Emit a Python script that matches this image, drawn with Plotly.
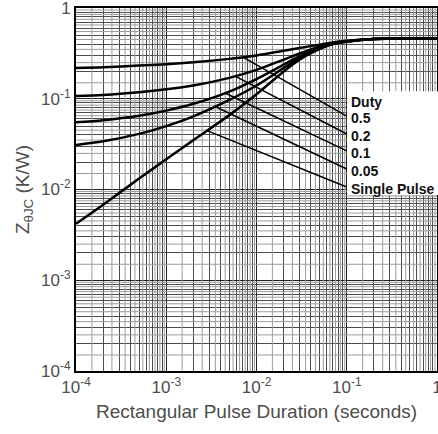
import numpy as np
import plotly.graph_objects as go

# ---- data ----
pulse_s = [1e-4, 2e-4, 5e-4, 1e-3, 2e-3, 5e-3, 1e-2, 2e-2, 3e-2, 5e-2, 7e-2, 1e-1, 2e-1, 5e-1, 1.0]
z_d05 = [0.218, 0.222, 0.232, 0.240, 0.252, 0.275, 0.300, 0.338, 0.362, 0.395, 0.418, 0.435, 0.455, 0.46, 0.46]
z_d02 = [0.107, 0.110, 0.118, 0.127, 0.140, 0.170, 0.208, 0.270, 0.315, 0.375, 0.408, 0.430, 0.455, 0.46, 0.46]
z_d01 = [0.055, 0.058, 0.065, 0.074, 0.088, 0.120, 0.165, 0.238, 0.295, 0.365, 0.404, 0.428, 0.455, 0.46, 0.46]
z_d005 = [0.031, 0.034, 0.041, 0.050, 0.064, 0.097, 0.140, 0.218, 0.282, 0.360, 0.402, 0.427, 0.455, 0.46, 0.46]
z_single = [0.0042, 0.0068, 0.0132, 0.0215, 0.035, 0.066, 0.112, 0.200, 0.270, 0.352, 0.400, 0.425, 0.455, 0.46, 0.46]

series = [z_d05, z_d02, z_d01, z_d005, z_single]
labels = ["0.5", "0.2", "0.1", "0.05", "Single Pulse"]
legend_title = "Duty"

# leader lines: start on curve at these pulse durations, end next to labels
leader_start_x = [0.00708, 0.00578, 0.00448, 0.00347, 0.00283]
leader_end_x = 0.1
leader_end_y = [0.0645, 0.0409, 0.0266, 0.0168, 0.01066]
label_x = 0.106
label_y = [0.0614, 0.0389, 0.0252, 0.016, 0.0101]
title_label_y = 0.092

decades = [1e-4, 1e-3, 1e-2, 1e-1, 1.0]
decade_text = ["10<sup>-4</sup>", "10<sup>-3</sup>", "10<sup>-2</sup>", "10<sup>-1</sup>", "1"]
digit_steps = [2, 3, 4, 5, 6, 7, 8, 9]
half_steps = [1.5, 2.5, 3.5, 4.5, 5.5, 6.5, 7.5, 8.5, 9.5]

FONT = "Liberation Sans, Arial"

# ---- figure ----
fig = go.Figure()

# light half-step grid lines (drawn as a background trace)
half_vals = [d * k for d in decades[:-1] for k in half_steps]
gx, gy = [], []
for v in half_vals:
    gx += [v, v, None]
    gy += [decades[0], decades[-1], None]
for v in half_vals:
    gx += [decades[0], decades[-1], None]
    gy += [v, v, None]
fig.add_trace(go.Scatter(x=gx, y=gy, mode="lines", line=dict(color="#9c9c9c", width=1),
                         showlegend=False, hoverinfo="skip"))

for ys in series:
    fig.add_trace(go.Scatter(x=pulse_s, y=ys, mode="lines",
                             line=dict(color="black", width=2.5, shape="spline", smoothing=0.8),
                             showlegend=False, hoverinfo="skip"))

lx = np.log10(pulse_s)
for ys, sx, ey in zip(series, leader_start_x, leader_end_y):
    sy = 10 ** np.interp(np.log10(sx), lx, np.log10(ys))
    fig.add_trace(go.Scatter(x=[sx, leader_end_x], y=[sy, ey], mode="lines",
                             line=dict(color="black", width=1.5),
                             showlegend=False, hoverinfo="skip"))

minor_vals = [d * k for d in decades[:-1] for k in digit_steps]

axis_common = dict(
    type="log", range=[-4, 0],
    tickmode="array", tickvals=decades, ticktext=decade_text,
    showgrid=True, gridcolor="#222222", gridwidth=1,
    showline=True, linecolor="black", linewidth=2, mirror=True,
    ticks="", zeroline=False, automargin=False, ticklabeloverflow="allow",
    tickfont=dict(family=FONT, size=17, color="#4d4d4d"),
    minor=dict(tickmode="array", tickvals=minor_vals, showgrid=True,
               gridcolor="#4c4c4c", gridwidth=1, ticks=""),
)

fig.update_layout(
    template="none",
    width=438, height=434,
    margin=dict(l=76, r=1, t=8, b=63),
    paper_bgcolor="white", plot_bgcolor="white",
    xaxis=dict(**axis_common,
               title=dict(text="Rectangular Pulse Duration (seconds)", standoff=8,
                          font=dict(family=FONT, size=19, color="#4d4d4d"))),
    yaxis=dict(**axis_common,
               title=dict(text="Z<sub>θJC</sub> (K/W)", standoff=6,
                          font=dict(family=FONT, size=19, color="#4d4d4d"))),
)

# white label box
fig.add_shape(type="rect", xref="paper", yref="paper", x0=0.751, x1=1.02, y0=0.485, y1=0.771,
              fillcolor="white", line=dict(width=0), layer="above")

for t, yv in zip([legend_title] + labels, [title_label_y] + label_y):
    fig.add_annotation(x=np.log10(label_x), y=np.log10(yv), text="<b>" + t + "</b>",
                       showarrow=False, xanchor="left", yanchor="middle",
                       font=dict(family=FONT, size=14, color="#111111"))

fig.write_html("out.html")
